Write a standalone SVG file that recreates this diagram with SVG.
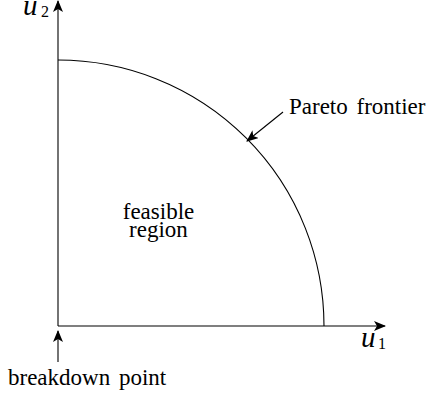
<svg xmlns="http://www.w3.org/2000/svg" width="430" height="398" viewBox="0 0 430 398">
<style>
.ln{stroke:#000;stroke-width:1.1;fill:none}
text{font-family:'Liberation Serif','DejaVu Serif',serif;fill:#000}
.t{font-size:23px}
.m{font-style:italic;font-size:29px}
.s{font-size:16px}
</style>
<defs>
<marker id="ah" viewBox="0 0 12 10" refX="11" refY="5" markerWidth="12" markerHeight="10" markerUnits="userSpaceOnUse" orient="auto">
<path d="M0,0 L12,5 L0,10 L3,5 Z" fill="#000"/>
</marker>
</defs>
<g id="axes">
<line id="u2-axis" class="ln" x1="58" y1="326" x2="58" y2="1" marker-end="url(#ah)"/>
<line id="u1-axis" class="ln" x1="58" y1="326" x2="385" y2="326" marker-end="url(#ah)"/>
</g>
<g id="frontier">
<path class="ln" d="M58,60 A266,266 0 0 1 324,326"/>
</g>
<g id="connectors">
<line class="ln" x1="283" y1="112" x2="247" y2="141" marker-end="url(#ah)"/>
<line class="ln" x1="58" y1="362" x2="58" y2="331" marker-end="url(#ah)"/>
</g>
<g id="label-u2"><text class="m" x="23" y="15">u</text><text class="s" x="41" y="17">2</text></g>
<g id="label-u1"><text class="m" x="361" y="347">u</text><text class="s" x="378" y="349">1</text></g>
<g id="label-pareto"><text class="t" x="289" y="114" word-spacing="3">Pareto frontier</text></g>
<g id="label-feasible"><text class="t" x="158.5" y="219" text-anchor="middle">feasible</text><text class="t" x="158.5" y="236.5" text-anchor="middle">region</text></g>
<g id="label-breakdown"><text class="t" x="8" y="385" font-size="23.5" word-spacing="3">breakdown point</text></g>
</svg>
